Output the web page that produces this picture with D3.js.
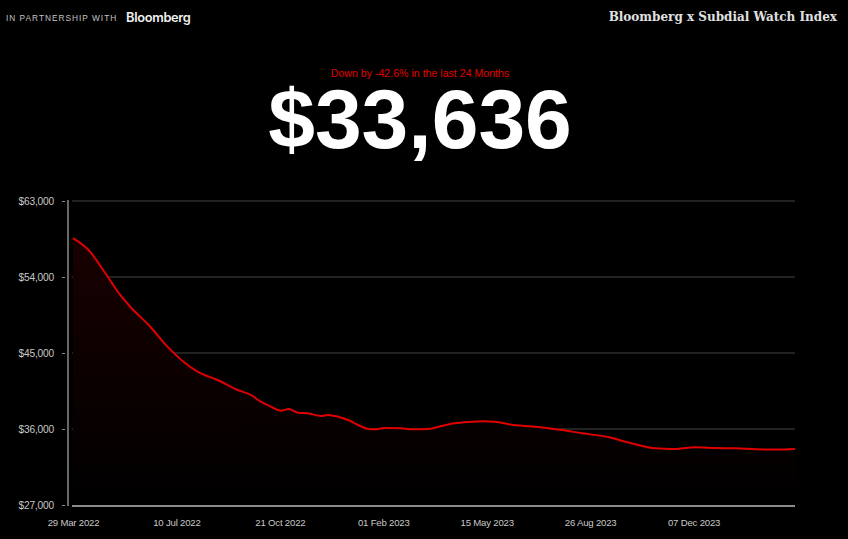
<!DOCTYPE html>
<html><head><meta charset="utf-8">
<script src="https://cdn.jsdelivr.net/npm/d3@7/dist/d3.min.js"></script>
<style>
html,body{margin:0;padding:0;background:#000;}
svg{display:block;}
</style></head>
<body>
<script>
const dates = ["2022-03-29","2022-04-15","2022-04-28","2022-05-15","2022-05-25","2022-06-14","2022-07-01","2022-07-17","2022-07-31","2022-08-20","2022-09-09","2022-09-22","2022-10-02","2022-10-12","2022-10-22","2022-10-30","2022-11-08","2022-11-18","2022-12-01","2022-12-08","2022-12-18","2022-12-28","2023-01-07","2023-01-17","2023-01-23","2023-02-02","2023-02-19","2023-03-01","2023-03-18","2023-03-31","2023-04-13","2023-04-27","2023-05-13","2023-05-23","2023-06-09","2023-06-19","2023-07-02","2023-07-19","2023-07-29","2023-08-18","2023-09-14","2023-09-30","2023-10-20","2023-10-30","2023-11-16","2023-12-09","2023-12-29","2024-01-18","2024-02-07","2024-02-27","2024-03-17"];
const values = [58600,57000,54830,51870,50480,48110,45750,43970,42790,41800,40620,40030,39230,38640,38170,38370,37930,37860,37540,37660,37460,37070,36470,36000,35960,36120,36080,35960,36000,36360,36670,36830,36910,36870,36510,36390,36270,36040,35880,35490,35020,34500,33900,33710,33630,33830,33750,33710,33600,33560,33636];
const yTicks = [27000,36000,45000,54000,63000];
const xTickDates = ["2022-03-29","2022-07-10","2022-10-21","2023-02-01","2023-05-15","2023-08-26","2023-12-07"];
const headline = "$33,636";
const subline = "Down by -42.6% in the last 24 Months";

const W=848,H=539;
const parse=d3.utcParse("%Y-%m-%d");
const data=dates.map((d,i)=>({d:parse(d),v:values[i]}));
const svg=d3.select("body").append("svg").attr("width",W).attr("height",H);
svg.append("rect").attr("width",W).attr("height",H).attr("fill","#000");

const x=d3.scaleUtc().domain([parse(dates[0]),parse(dates[dates.length-1])]).range([73,795]);
const y=d3.scaleLinear().domain([27000,63000]).range([505,201]);

// header
svg.append("text").attr("x",6).attr("y",21).attr("fill","#c4c4c4")
  .attr("font-family","Liberation Sans, Arial, sans-serif").attr("font-size",8.3).attr("letter-spacing",1)
  .text("IN PARTNERSHIP WITH");
svg.append("text").attr("x",126).attr("y",22).attr("fill","#f0f0f0")
  .attr("font-family","Inter, Liberation Sans, sans-serif").attr("font-weight",600).attr("font-size",12.8).attr("letter-spacing",-0.3)
  .text("Bloomberg");
svg.append("text").attr("x",837).attr("y",21).attr("text-anchor","end").attr("fill","#e0e0e0")
  .attr("font-family","DejaVu Serif, serif").attr("font-weight","bold").attr("font-size",12)
  .text("Bloomberg x Subdial Watch Index");

svg.append("text").attr("x",420).attr("y",77).attr("text-anchor","middle").attr("fill","#e00000")
  .attr("font-family","Liberation Sans, Arial, sans-serif").attr("font-size",10.6)
  .text(subline);
svg.append("text").attr("x",420).attr("y",148).attr("text-anchor","middle").attr("fill","#fff")
  .attr("font-family","Liberation Sans, Arial, sans-serif").attr("font-weight","bold").attr("font-size",84)
  .text(headline);

// gradient
const defs=svg.append("defs");
const g=defs.append("linearGradient").attr("id","fillg").attr("x1",0).attr("x2",0).attr("y1",0).attr("y2",1);
g.append("stop").attr("offset","0%").attr("stop-color","#180000");
g.append("stop").attr("offset","100%").attr("stop-color","#000000");

// grid
svg.append("g").selectAll("line").data(yTicks.filter(t=>t>27000)).join("line")
  .attr("x1",72).attr("x2",795).attr("y1",d=>y(d)).attr("y2",d=>y(d))
  .attr("stroke","#2e2e2e").attr("stroke-width",1.5);

// area
const area=d3.area().x(d=>x(d.d)).y0(505).y1(d=>y(d.v)).curve(d3.curveMonotoneX);
svg.append("path").datum(data).attr("d",area).attr("fill","url(#fillg)");
const line=d3.line().x(d=>x(d.d)).y(d=>y(d.v)).curve(d3.curveMonotoneX);
svg.append("path").datum(data).attr("d",line).attr("fill","none").attr("stroke","#e00000").attr("stroke-width",2);

// y axis
const yAxis=d3.axisLeft(y).tickValues(yTicks).tickSize(3).tickPadding(11).tickFormat(d=>"$"+d3.format(",")(d));
const ya=svg.append("g").attr("transform","translate(68,0)").call(yAxis);
ya.select(".domain").attr("stroke","#8a8a8a").attr("stroke-width",1.5).attr("d","M0,200V506");
ya.selectAll(".tick line").attr("stroke","#8a8a8a").attr("x1",-6).attr("x2",-3);
ya.selectAll(".tick text").attr("fill","#c8c8c8").attr("font-family","Liberation Sans, Arial, sans-serif").attr("font-size",10.2).attr("letter-spacing",-0.2);

// x axis baseline
svg.append("line").attr("x1",72).attr("x2",795).attr("y1",506).attr("y2",506).attr("stroke","#8a8a8a").attr("stroke-width",2);
const xAxis=d3.axisBottom(x).tickValues(xTickDates.map(parse)).tickSize(0).tickPadding(13).tickFormat(d3.utcFormat("%d %b %Y"));
const xa=svg.append("g").attr("transform","translate(0,506)").call(xAxis);
xa.select(".domain").remove();
xa.selectAll(".tick text").attr("fill","#c8c8c8").attr("font-family","Liberation Sans, Arial, sans-serif").attr("font-size",9.6).attr("letter-spacing",-0.2);
</script>
</body></html>
